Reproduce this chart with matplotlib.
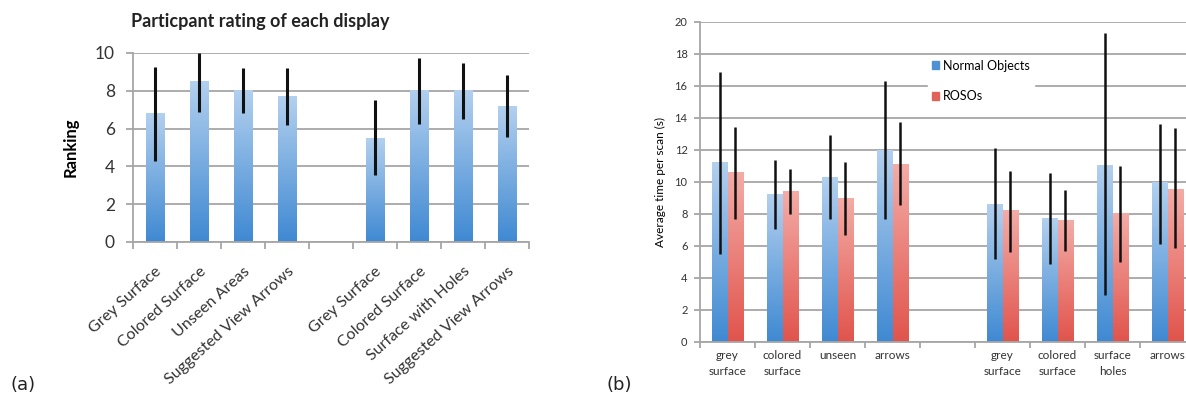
import numpy as np
import matplotlib.pyplot as plt
from matplotlib.colors import LinearSegmentedColormap

plt.rcParams['font.family'] = ['Lato', 'DejaVu Sans']

# (a) participant rating
a_labels = ['Grey Surface', 'Colored Surface', 'Unseen Areas', 'Suggested View Arrows',
            'Grey Surface', 'Colored Surface', 'Surface with Holes', 'Suggested View Arrows']
a_pos = [0, 1, 2, 3, 5, 6, 7, 8]
a_mean = [6.8, 8.5, 8.0, 7.7, 5.5, 8.0, 8.0, 7.15]
a_low = [4.3, 6.9, 6.8, 6.2, 3.55, 6.25, 6.5, 5.55]
a_high = [9.26, 10.0, 9.2, 9.2, 7.5, 9.75, 9.45, 8.85]

# (b) average time per scan
b_labels = ['grey\nsurface', 'colored\nsurface', 'unseen', 'arrows',
            'grey\nsurface', 'colored\nsurface', 'surface\nholes', 'arrows']
b_pos = [0, 1, 2, 3, 5, 6, 7, 8]
normal_mean = [11.2, 9.2, 10.3, 11.95, 8.6, 7.7, 11.05, 9.95]
normal_low = [5.5, 7.05, 7.7, 7.7, 5.2, 4.9, 2.95, 6.15]
normal_high = [16.9, 11.4, 12.95, 16.3, 12.1, 10.55, 19.3, 13.6]
roso_mean = [10.6, 9.4, 8.95, 11.1, 8.2, 7.6, 8.05, 9.55]
roso_low = [7.7, 8.0, 6.7, 8.55, 5.6, 5.7, 5.0, 5.85]
roso_high = [13.45, 10.8, 11.25, 13.75, 10.7, 9.5, 11.0, 13.35]

blue_cm = LinearSegmentedColormap.from_list('b', ['#3f89d2', '#b3d0ef'])
red_cm = LinearSegmentedColormap.from_list('r', ['#e0544c', '#f4aca7'])
grad = np.linspace(0, 1, 256).reshape(-1, 1)
grid_c = '#a6a6a6'


def grad_bars(ax, x, h, w, cmap):
    bars = ax.bar(x, h, w, color='none', edgecolor='none', zorder=2)
    for b in bars:
        x0, x1 = b.get_x(), b.get_x() + b.get_width()
        ax.imshow(grad, extent=[x0, x1, 0, b.get_height()], origin='lower',
                  aspect='auto', cmap=cmap, zorder=2)
    return bars


def errs(ax, x, mean, low, high, lw):
    mean = np.array(mean)
    yerr = [mean - np.array(low), np.array(high) - mean]
    ax.errorbar(x, mean, yerr=yerr, fmt='none', ecolor='#111111',
                elinewidth=lw, capsize=0, zorder=3)


def style(ax, ymax, ystep, fs, tlen, ypad):
    ax.set_xlim(-0.5, 8.5)
    ax.set_ylim(0, ymax)
    ax.set_yticks(np.arange(0, ymax + 0.1, ystep))
    ax.set_xticks(np.arange(-0.5, 9, 1), minor=True)
    for s in ['top', 'right']:
        ax.spines[s].set_visible(False)
    for s in ['left', 'bottom']:
        ax.spines[s].set_color(grid_c)
        ax.spines[s].set_linewidth(1.3)
    ax.yaxis.grid(True, color=grid_c, linewidth=1.3, zorder=0)
    ax.set_axisbelow(True)
    ax.tick_params(axis='y', colors=grid_c, length=tlen, width=1.3,
                   labelcolor='#333333', labelsize=fs, pad=ypad)
    ax.tick_params(axis='x', which='major', length=0)
    ax.tick_params(axis='x', which='minor', colors=grid_c, length=tlen, width=1.3)


fig = plt.figure(figsize=(11.86, 4.04), dpi=100)

# ---- (a)
ax1 = fig.add_axes([133 / 1186, 1 - 242 / 404, 396 / 1186, 189 / 404])
grad_bars(ax1, a_pos, a_mean, 0.42, blue_cm)
errs(ax1, a_pos, a_mean, a_low, a_high, 2.2)
style(ax1, 10, 2, 12.5, 5, 8)
ax1.set_xticks(a_pos)
ax1.set_xticklabels(a_labels, rotation=42, ha='right', rotation_mode='anchor',
                    fontsize=11.5, color='#333333')
ax1.tick_params(axis='x', which='major', pad=16)
ax1.set_ylabel('Ranking', fontsize=12, fontweight='bold', labelpad=12)
fig.text(260 / 1186, 1 - 22 / 404, 'Particpant rating of each display',
         fontsize=13, fontweight='bold', ha='center', va='center', color='#222222')

# ---- (b)
ax2 = fig.add_axes([700 / 1186, 1 - 342 / 404, 495 / 1186, 320 / 404])
w = 0.29
xb = np.array(b_pos)
grad_bars(ax2, xb - w / 2, normal_mean, w, blue_cm)
grad_bars(ax2, xb + w / 2, roso_mean, w, red_cm)
errs(ax2, xb - w / 2, normal_mean, normal_low, normal_high, 1.8)
errs(ax2, xb + w / 2, roso_mean, roso_low, roso_high, 1.8)
style(ax2, 20, 2, 8, 4, 5)
ax2.set_xticks(b_pos)
ax2.set_xticklabels(b_labels, fontsize=8.5, color='#333333', linespacing=1.5)
ax2.tick_params(axis='x', which='major', pad=6)
ax2.set_ylabel('Average time per scan (s)', fontsize=8.5, labelpad=6)

h1 = plt.Rectangle((0, 0), 1, 1, color='#4f90d3')
h2 = plt.Rectangle((0, 0), 1, 1, color='#e0625b')
ax2.legend([h1, h2], ['Normal Objects', 'ROSOs'], loc='upper left',
           bbox_to_anchor=(928 / 1186, 1 - 56 / 404), bbox_transform=fig.transFigure,
           frameon=True, facecolor='white', edgecolor='white', framealpha=1,
           fontsize=9, handlelength=0.6, handleheight=0.6, handletextpad=0.3,
           labelspacing=1.5, borderaxespad=0, borderpad=0.3)

fig.text(10 / 1186, 1 - 385 / 404, '(a)', fontsize=13, family='DejaVu Sans',
         va='center', color='#222222')
fig.text(607 / 1186, 1 - 385 / 404, '(b)', fontsize=13, family='DejaVu Sans',
         va='center', color='#222222')

fig.savefig('out.png', dpi=100)
